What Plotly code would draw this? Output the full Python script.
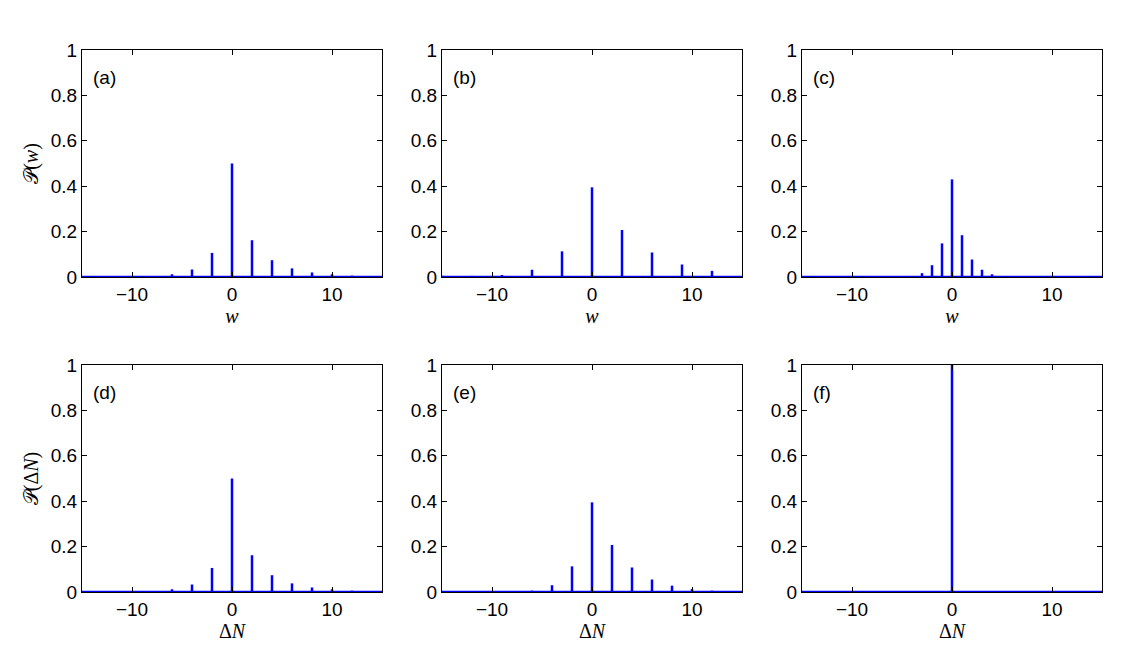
import plotly.graph_objects as go

# ---- data ----
x_a = [-6, -4, -2, 0, 2, 4, 6, 8, 10, 12]
p_a = [0.012, 0.033, 0.106, 0.5, 0.162, 0.074, 0.038, 0.02, 0.012, 0.006]

x_b = [-15, -12, -9, -6, -3, 0, 3, 6, 9, 12, 15]
p_b = [0.005, 0.005, 0.009, 0.032, 0.113, 0.395, 0.207, 0.108, 0.055, 0.027, 0.003]

x_c = [-4, -3, -2, -1, 0, 1, 2, 3, 4, 5]
p_c = [0.004, 0.017, 0.052, 0.148, 0.43, 0.184, 0.077, 0.032, 0.012, 0.004]

x_d = [-6, -4, -2, 0, 2, 4, 6, 8, 10, 12]
p_d = [0.012, 0.033, 0.106, 0.5, 0.162, 0.074, 0.038, 0.02, 0.012, 0.006]

x_e = [-6, -4, -2, 0, 2, 4, 6, 8, 10, 12]
p_e = [0.006, 0.03, 0.113, 0.395, 0.207, 0.108, 0.055, 0.028, 0.013, 0.006]

x_f = [0]
p_f = [1.0]

panel_labels = ["(a)", "(b)", "(c)", "(d)", "(e)", "(f)"]
x_titles = ["<i>w</i>", "<i>w</i>", "<i>w</i>", "Δ<i>N</i>", "Δ<i>N</i>", "Δ<i>N</i>"]
y_titles = ["𝒫(<i>w</i>)", "𝒫(Δ<i>N</i>)"]
x_ticks = [-10, 0, 10]
y_ticks = [0, 0.2, 0.4, 0.6, 0.8, 1]
y_ticklabels = ["0", "0.2", "0.4", "0.6", "0.8", "1"]
x_range = [-15, 15]

panels = [(x_a, p_a), (x_b, p_b), (x_c, p_c), (x_d, p_d), (x_e, p_e), (x_f, p_f)]

W, H = 1130, 655
x_doms = [[82 / W, 382 / W], [442 / W, 742 / W], [802 / W, 1102 / W]]
y_doms = [[1 - 277 / H, 1 - 50 / H], [1 - 592 / H, 1 - 365 / H]]

BLUE = "#0000ff"
fig = go.Figure()
layout = dict(
    width=W, height=H, margin=dict(l=0, r=0, t=0, b=0, autoexpand=False),
    paper_bgcolor="white", plot_bgcolor="white", showlegend=False,
    template="none",
    font=dict(family="Liberation Sans, Arial, sans-serif", size=19, color="black"),
)
annotations = []
for i, (xs, ps) in enumerate(panels):
    r, c = divmod(i, 3)
    n = "" if i == 0 else str(i + 1)
    xa, ya = "x" + n, "y" + n
    # baseline
    fig.add_trace(go.Scatter(x=x_range, y=[0, 0], mode="lines",
                             line=dict(color=BLUE, width=2.5), xaxis=xa, yaxis=ya,
                             hoverinfo="skip"))
    sx, sy = [], []
    for xv, pv in zip(xs, ps):
        sx += [xv, xv, None]
        sy += [0, pv, None]
    fig.add_trace(go.Scatter(x=sx, y=sy, mode="lines", line=dict(color=BLUE, width=2.5),
                             xaxis=xa, yaxis=ya))
    layout["xaxis" + n] = dict(
        domain=x_doms[c], anchor=ya, range=x_range, tickvals=x_ticks,
        showline=True, linecolor="black", linewidth=1, mirror="ticks",
        ticks="inside", ticklen=5, tickcolor="black", showgrid=False, zeroline=False,
        automargin=False,
        title=dict(text=x_titles[i], font=dict(family="Liberation Serif, serif", size=20), standoff=0),
    )
    layout["yaxis" + n] = dict(
        domain=y_doms[r], anchor=xa, range=[0, 1], tickvals=y_ticks, ticktext=y_ticklabels,
        showline=True, linecolor="black", linewidth=1, mirror="ticks",
        ticks="inside", ticklen=5, tickcolor="black", showgrid=False, zeroline=False,
        automargin=False,
        title=dict(text=y_titles[r] if c == 0 else "",
                   font=dict(family="Liberation Serif, DejaVu Serif, serif", size=20), standoff=6),
    )
    annotations.append(dict(text=panel_labels[i], x=-14.1, y=0.88, xref=xa, yref=ya,
                            xanchor="left", yanchor="middle", showarrow=False,
                            font=dict(size=19)))
layout["annotations"] = annotations
fig.update_layout(**layout)
fig.write_html("out.html")
